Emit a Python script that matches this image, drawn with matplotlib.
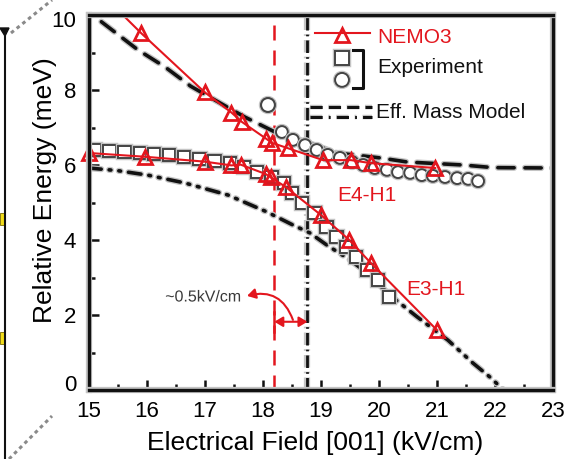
import matplotlib
matplotlib.use('Agg')
import matplotlib.pyplot as plt
import matplotlib.patheffects as pe
import matplotlib.transforms as mtransforms
from matplotlib.lines import Line2D
from matplotlib.patches import FancyArrowPatch, Rectangle, Polygon

plt.rcParams['font.family'] = ['Liberation Sans', 'DejaVu Sans']

# ---------------- data ----------------
# NEMO3 upper branch (E4-H1); first point is where the line enters the frame
nemo_up_x = [15.59, 15.91, 17.0, 17.46, 17.64, 18.06, 18.16, 18.43, 19.04, 19.52, 19.86, 20.97]
nemo_up_y = [10.0, 9.51, 7.94, 7.40, 7.15, 6.70, 6.59, 6.45, 6.13, 6.13, 6.05, 5.92]
# NEMO3 lower branch (E3-H1)
nemo_lo_x = [15.01, 15.97, 17.0, 17.46, 17.62, 18.05, 18.14, 18.40, 19.0, 19.49, 19.86, 21.0]
nemo_lo_y = [6.32, 6.22, 6.09, 5.99, 6.01, 5.76, 5.67, 5.41, 4.67, 4.0, 3.39, 1.6]

# Experiment squares (lower branch)
sq_x = [15.1, 15.36, 15.62, 15.88, 16.13, 16.39, 16.65, 16.91, 17.17, 17.43, 17.68, 17.9,
        18.15, 18.37, 18.51, 18.68, 18.89, 19.1, 19.27, 19.44, 19.61, 19.8, 19.98, 20.18]
sq_y = [6.4, 6.37, 6.35, 6.32, 6.29, 6.27, 6.21, 6.16, 6.11, 6.05, 5.95, 5.81,
        5.68, 5.52, 5.25, 4.99, 4.72, 4.35, 4.08, 3.81, 3.55, 3.2, 2.93, 2.48]

# Experiment circles (upper branch)
ci_x = [18.33, 18.52, 18.73, 18.93, 19.12, 19.33, 19.54, 19.73, 19.93, 20.14, 20.33,
        20.54, 20.74, 20.93, 21.14, 21.35, 21.54, 21.71]
ci_y = [6.88, 6.67, 6.53, 6.40, 6.27, 6.19, 6.08, 6.00, 5.92, 5.87, 5.81,
        5.79, 5.73, 5.71, 5.68, 5.65, 5.63, 5.57]
ci_big_x = [18.09]
ci_big_y = [7.6]

# Effective mass model, upper (dashed)
em_up_x = [15.22, 15.85, 16.32, 16.76, 17.11, 17.69, 18.21, 18.64, 19.28, 20.02, 20.49, 21.45, 21.97, 23.0]
em_up_y = [9.82, 9.07, 8.61, 8.10, 7.79, 7.28, 6.88, 6.67, 6.32, 6.19, 6.08, 6.0, 5.93, 5.92]
# Effective mass model, lower (dash-dot-dot)
em_lo_x = [15.0, 15.5, 16.02, 16.66, 17.4, 18.07, 18.52, 18.81, 19.1, 19.5, 19.8, 20.19,
           20.66, 21.19, 21.62, 21.91, 22.15]
em_lo_y = [5.92, 5.85, 5.73, 5.52, 5.20, 4.75, 4.40, 4.19, 3.87, 3.47, 3.12, 2.53,
           1.95, 1.33, 0.72, 0.35, 0.0]

# Vertical markers (kV/cm)
nemo_crossing = 18.2
em_crossing = 18.77

x_ticks = [15, 16, 17, 18, 19, 20, 21, 22, 23]
y_ticks = [0, 2, 4, 6, 8, 10]

RED = '#e3161e'
BLACK = '#111111'
HALO = '#c4c4c4'

halo_l = [pe.withStroke(linewidth=4.5, foreground=HALO)]
halo_m = [pe.withStroke(linewidth=3.2, foreground=HALO)]
white_halo = [pe.withStroke(linewidth=3, foreground='white')]

fig = plt.figure(figsize=(5.75, 4.59), dpi=100)
ax = fig.add_axes([0.1541, 0.1503, 0.8076, 0.8170])
ax.set_xlim(15, 23)
ax.set_ylim(0, 10)

# vertical lines
ax.axvline(nemo_crossing, color=RED, lw=1.8, dashes=(6, 4), zorder=2)
ax.axvline(em_crossing, color=BLACK, lw=2.0, dashes=(4.5, 1.5, 0.6, 1.5),
           path_effects=halo_l, zorder=2)

# model lines
ax.plot(em_up_x, em_up_y, color=BLACK, lw=2.6, dashes=(4.5, 3), path_effects=halo_l, zorder=3,
        dash_capstyle='round')
ax.plot(em_lo_x, em_lo_y, color=BLACK, lw=2.6, dashes=(3.5, 2.2, 0.5, 2.2, 0.5, 2.2),
        path_effects=halo_l, zorder=3, dash_capstyle='round')

# experiment
ax.plot(sq_x, sq_y, ls='none', marker='s', ms=8.8, mfc='white', mec='#444444', mew=1.4,
        path_effects=halo_m, zorder=4)
ax.plot(ci_x, ci_y, ls='none', marker='o', ms=8.5, mfc='white', mec='#444444', mew=1.4,
        path_effects=halo_m, zorder=4)
ax.plot(ci_big_x, ci_big_y, ls='none', marker='o', ms=10, mfc='white', mec='#444444', mew=1.5,
        path_effects=halo_m, zorder=4)

# NEMO3
ax.plot(nemo_up_x, nemo_up_y, color=RED, lw=1.5, marker='^', ms=10.5, mfc='none', mec=RED,
        mew=2.0, markevery=list(range(1, len(nemo_up_x))), zorder=5)
ax.plot(nemo_lo_x, nemo_lo_y, color=RED, lw=1.5, marker='^', ms=10.5, mfc='none', mec=RED,
        mew=2.0, zorder=5, clip_on=False)

# labels on branches
ax.text(19.28, 5.2, 'E4-H1', color=RED, fontsize=15, va='center', ha='left')
ax.text(20.48, 2.69, 'E3-H1', color=RED, fontsize=15, va='center', ha='left')

# annotation
ax.text(16.32, 2.48, '~0.5kV/cm', color='#3a3a3a', fontsize=11.5, va='center', ha='left',
        path_effects=white_halo)
ax.add_patch(FancyArrowPatch((18.52, 1.87), (17.73, 2.51), connectionstyle='arc3,rad=0.45',
                             arrowstyle='-|>,head_length=5,head_width=3', color=RED, lw=1.5,
                             shrinkA=0, shrinkB=0, zorder=6))
ax.add_patch(FancyArrowPatch((nemo_crossing, 1.82), (em_crossing, 1.82),
                             arrowstyle='<|-|>,head_length=5,head_width=3', color=RED, lw=1.5,
                             shrinkA=0, shrinkB=0, zorder=6))
ax.plot([nemo_crossing, nemo_crossing], [1.55, 2.07], color=RED, lw=1.8, zorder=6)

# legend (drawn by hand)
T = ax.transAxes
ax.plot([0.4875, 0.606], [0.952, 0.952], transform=T, color=RED, lw=1.5, clip_on=False, zorder=7)
ax.plot([0.5457], [0.947], transform=T, marker='^', ms=10.5, mfc='none', mec=RED, mew=2.0,
        clip_on=False, zorder=7)
ax.text(0.621, 0.941, 'NEMO3', transform=T, color=RED, fontsize=15, va='center', ha='left')
ax.plot([0.5457], [0.885], transform=T, marker='s', ms=10, mfc='white', mec='#444444', mew=1.4,
        path_effects=halo_m, clip_on=False, zorder=7)
ax.plot([0.5457], [0.827], transform=T, marker='o', ms=10, mfc='white', mec='#444444', mew=1.4,
        path_effects=halo_m, clip_on=False, zorder=7)
ax.plot([0.570, 0.591, 0.591, 0.570], [0.907, 0.907, 0.805, 0.805], transform=T, color=BLACK,
        lw=2.2, clip_on=False, zorder=7)
ax.text(0.621, 0.861, 'Experiment', transform=T, color=BLACK, fontsize=15, va='center', ha='left')
ax.plot([0.477, 0.610], [0.755, 0.755], transform=T, color=BLACK, lw=2.2, dashes=(4, 2),
        path_effects=halo_m, clip_on=False, zorder=7)
ax.plot([0.477, 0.610], [0.728, 0.728], transform=T, color=BLACK, lw=2.2, dashes=(4, 2, 0.6, 2),
        path_effects=halo_m, clip_on=False, zorder=7)
ax.text(0.619, 0.741, 'Eff. Mass Model', transform=T, color=BLACK, fontsize=15, va='center',
        ha='left')

# axes styling
ax.set_xticks(x_ticks)
ax.set_yticks(y_ticks)
ax.set_xticks([v + 0.5 for v in x_ticks[:-1]], minor=True)
ax.set_yticks([v + 1 for v in y_ticks[:-1]], minor=True)
ax.tick_params(which='both', direction='in', color=BLACK, width=1.8, labelsize=16)
ax.tick_params(which='major', length=7)
ax.tick_params(which='minor', length=4.5)
ax.tick_params(axis='x', pad=8)
ax.tick_params(axis='y', pad=9)
for s in ax.spines.values():
    s.set_linewidth(2.4)
    s.set_color(BLACK)
    s.set_path_effects([pe.withStroke(linewidth=4.5, foreground=HALO)])
    s.set_zorder(8)

# nudge end labels of the y axis inward as in the reference
yt = ax.yaxis.get_major_ticks()
lab0 = yt[0].label1
lab0.set_transform(lab0.get_transform() + mtransforms.ScaledTranslation(0, 7 / 100, fig.dpi_scale_trans))
labN = yt[-1].label1
labN.set_transform(labN.get_transform() + mtransforms.ScaledTranslation(0, -4 / 100, fig.dpi_scale_trans))

ax.set_xlabel('Electrical Field [001] (kV/cm)', fontsize=19)
ax.set_ylabel('Relative Energy (meV)', fontsize=19)
ax.xaxis.set_label_coords(0.4875, -0.11)
ax.yaxis.set_label_coords(-0.068, 0.533)

# cropped decoration from a neighbouring panel on the left edge
W, H = 575.0, 459.0
fig.add_artist(Line2D([5 / W, 5 / W], [1 - 34 / H, 0], color=BLACK, lw=1.5))
fig.add_artist(Polygon([[0 / W, 1 - 28 / H], [9 / W, 1 - 28 / H], [5 / W, 1 - 36 / H]],
                       closed=True, color=BLACK, transform=fig.transFigure))
for ytop in (213, 332):
    fig.add_artist(Rectangle((0, 1 - (ytop + 12) / H), 5 / W, 12 / H, facecolor='#f2dd1a',
                             edgecolor='#7a6a00', lw=0.6, transform=fig.transFigure))
fig.add_artist(Line2D([11 / W, 52 / W], [1 - 33 / H, 1.0], color='#8a8a8a', lw=2.2,
                      dashes=(1.2, 1.2)))
fig.add_artist(Line2D([9 / W, 52 / W], [0.0, 1 - 416 / H], color='#8a8a8a', lw=2.2,
                      dashes=(1.2, 1.2)))

fig.savefig('out.png', dpi=100)
